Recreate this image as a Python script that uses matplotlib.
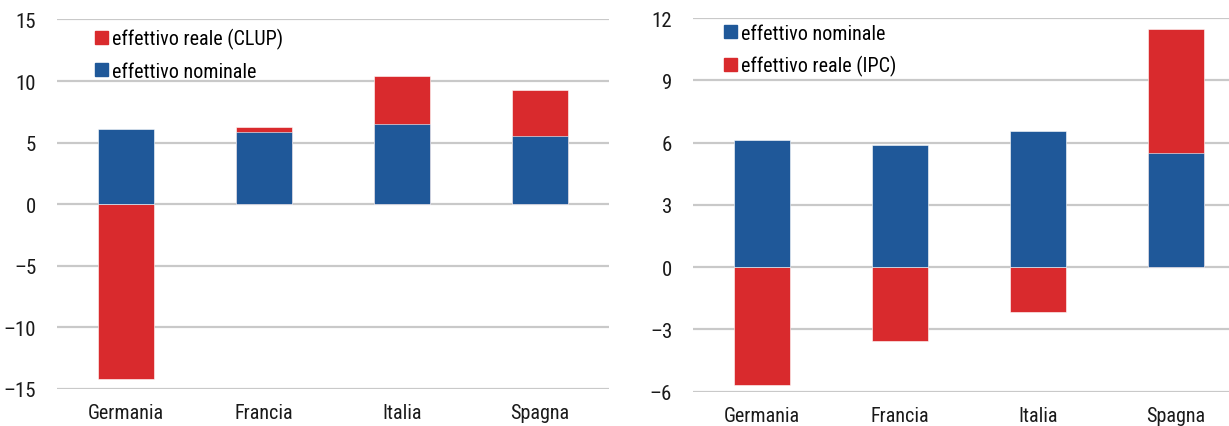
import numpy as np
import matplotlib.pyplot as plt
import matplotlib.patches as mpatches

plt.rcParams['font.family'] = ['Roboto Condensed', 'DejaVu Sans']

# dati
paesi = ['Germania', 'Francia', 'Italia', 'Spagna']
nominale_sx = [6.1, 5.9, 6.5, 5.5]
reale_clup = [-14.2, 6.25, 10.4, 9.25]
nominale_dx = [6.1, 5.9, 6.55, 5.5]
reale_ipc = [-5.7, -3.55, -2.15, 11.45]

BLU = '#1F5899'
ROSSO = '#D92A2D'
GRIGIO = '#C9C9C9'

fig = plt.figure(figsize=(12.29, 4.27), dpi=100)
ax1 = fig.add_axes([0.0464, 0.0867, 0.4491, 0.8653])
ax2 = fig.add_axes([0.5639, 0.0803, 0.4361, 0.8752])

x = np.arange(len(paesi))
w = 0.4


def stile(ax, ticks, ylim, xlim):
    ax.set_ylim(*ylim)
    ax.set_xlim(*xlim)
    ax.set_yticks(ticks)
    ax.set_yticklabels([str(t).replace('-', '\u2013') if t < 0 else str(t) for t in ticks])
    ax.set_xticks(x)
    ax.set_xticklabels(paesi)
    ax.grid(axis='y', color=GRIGIO, linewidth=1.6)
    ax.set_axisbelow(True)
    for s in ax.spines.values():
        s.set_visible(False)
    ax.tick_params(length=0, colors='#1a1a1a')
    ax.tick_params(axis='x', labelsize=14.5, pad=10)
    ax.tick_params(axis='y', labelsize=15, pad=15)


def legenda(ax, handles, pos):
    ax.legend(handles=handles, loc='upper left', bbox_to_anchor=pos, frameon=False,
              fontsize=14.5, handlelength=0.65, handleheight=0.65, handletextpad=0.2,
              labelspacing=0.62, borderaxespad=0, borderpad=0)


# pannello sinistro
ax1.bar(x, reale_clup, w, color=ROSSO, edgecolor='white', linewidth=0.4, zorder=2)
ax1.bar(x, nominale_sx, w, color=BLU, edgecolor='white', linewidth=0.4, zorder=3)
stile(ax1, [-15, -10, -5, 0, 5, 10, 15], (-15, 15), (-0.5, 3.5))
legenda(ax1, [mpatches.Patch(color=ROSSO, label='effettivo reale (CLUP)'),
              mpatches.Patch(color=BLU, label='effettivo nominale')], (0.069, 0.977))

# pannello destro
ax2.bar(x, reale_ipc, w, color=ROSSO, edgecolor='white', linewidth=0.4, zorder=2)
ax2.bar(x, nominale_dx, w, color=BLU, edgecolor='white', linewidth=0.4, zorder=3)
stile(ax2, [-6, -3, 0, 3, 6, 9, 12], (-6, 12), (-0.5, 3.384))
legenda(ax2, [mpatches.Patch(color=BLU, label='effettivo nominale'),
              mpatches.Patch(color=ROSSO, label='effettivo reale (IPC)')], (0.057, 0.985))

fig.savefig('out.png', dpi=100)
